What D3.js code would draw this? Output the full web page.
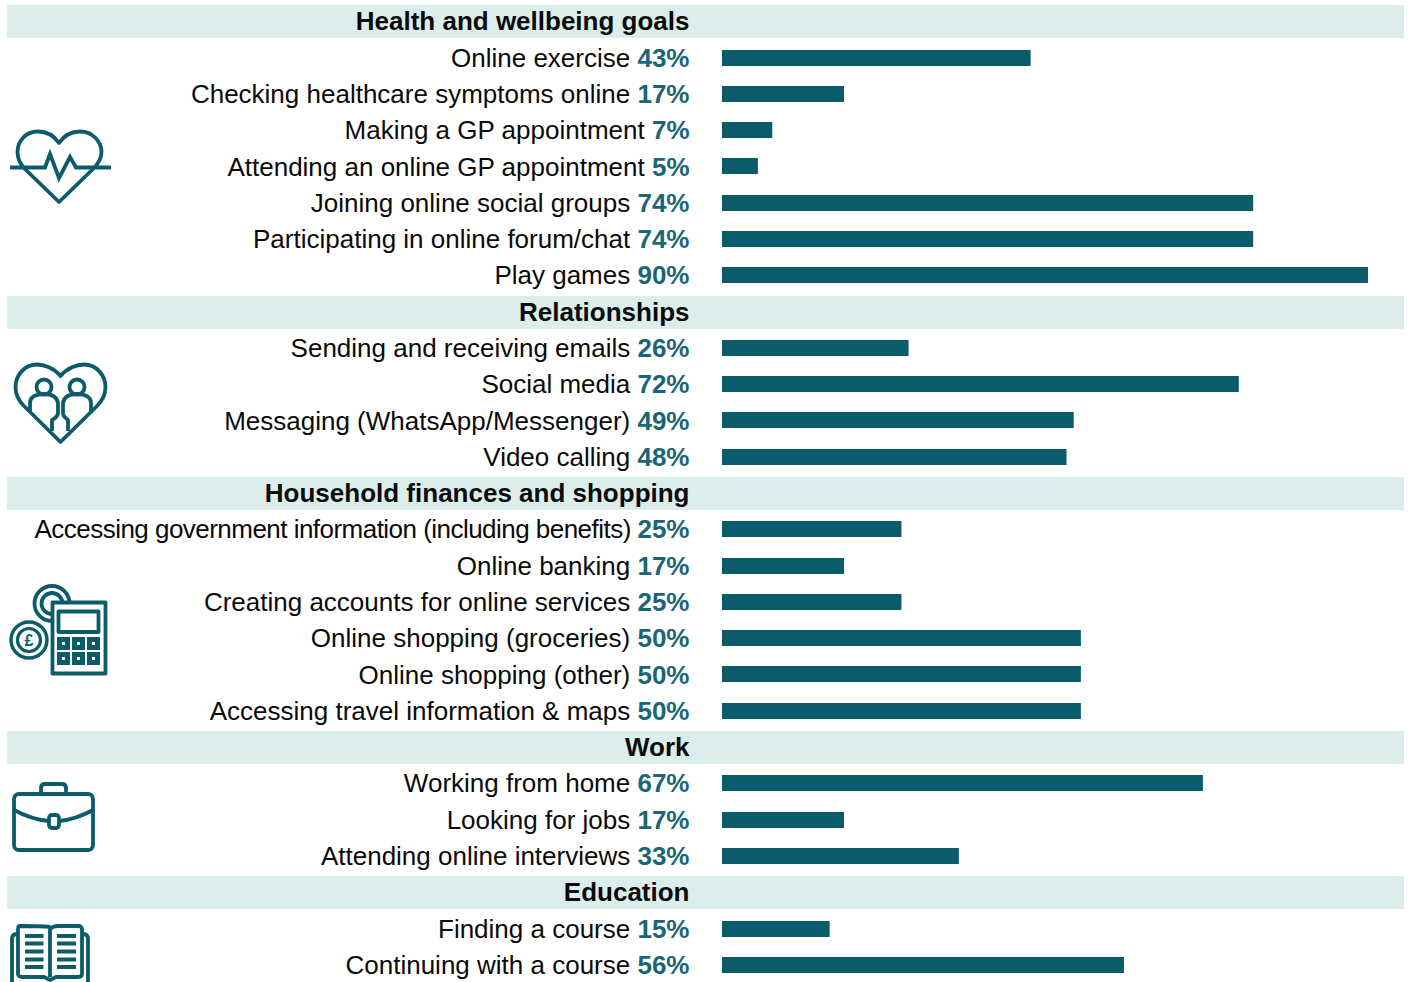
<!DOCTYPE html>
<html><head><meta charset="utf-8">
<script src="https://cdn.jsdelivr.net/npm/d3@7/dist/d3.min.js"></script>
<style>html,body{margin:0;padding:0;background:#fff}svg{display:block}text{font-family:"Liberation Sans",Arial,sans-serif}</style>
</head><body><svg id="c" width="1408" height="982"></svg>
<script>
const labels = ["Health and wellbeing goals","Online exercise","Checking healthcare symptoms online","Making a GP appointment","Attending an online GP appointment","Joining online social groups","Participating in online forum/chat","Play games","Relationships","Sending and receiving emails","Social media","Messaging (WhatsApp/Messenger)","Video calling","Household finances and shopping","Accessing government information (including benefits)","Online banking","Creating accounts for online services","Online shopping (groceries)","Online shopping (other)","Accessing travel information & maps","Work","Working from home","Looking for jobs","Attending online interviews","Education","Finding a course","Continuing with a course"];
const values = [null,43,17,7,5,74,74,90,null,26,72,49,48,null,25,17,25,50,50,50,null,67,17,33,null,15,56];
const INK="#0b5c6b", BAND="#dceeeb";
const svg=d3.select("#c");
const y=d3.scalePoint().domain(d3.range(labels.length)).range([21.3,964.8]);
const x=d3.scaleLinear().domain([0,90]).range([722,1368]);
const rows=labels.map((l,i)=>({l,v:values[i],i}));
svg.selectAll("rect.band").data(rows.filter(d=>d.v===null)).join("rect").attr("class","band")
  .attr("x",7).attr("width",1397).attr("y",d=>Math.ceil(y(d.i)-16.4)).attr("height",33).attr("fill",BAND);
const t=svg.selectAll("text.l").data(rows).join("text").attr("class","l")
  .attr("x",689.5).attr("y",d=>y(d.i)+9.1).attr("text-anchor","end").attr("font-size",26).attr("fill","#0a0a0a")
  .attr("font-weight",d=>d.v===null?700:400);
t.append("tspan").attr("letter-spacing",d=>d.l.length>50?-0.53:null).text(d=>d.v===null?d.l:d.l+" ");
t.filter(d=>d.v!==null).append("tspan").attr("font-weight",700).attr("fill","#1a6675").text(d=>d.v+"%");
svg.selectAll("rect.bar").data(rows.filter(d=>d.v!==null)).join("rect").attr("class","bar")
  .attr("x",x(0)).attr("y",d=>Math.round(y(d.i))-8).attr("height",16).attr("width",d=>x(d.v)-x(0)).attr("fill",INK);
// icons
const ic=svg.append("g").attr("fill","none").attr("stroke",INK).attr("stroke-width",3.8).attr("stroke-linejoin","round");
// heart pulse
ic.append("path").attr("d","M59 143C53 134 44 131.500 38 131.500C25 131.500 17.500 142 17.500 152C17.500 159 20 164 25 169L59 202L93 169C98 164 101.500 159 101.500 152C101.500 142 93 131.500 80 131.500C74 131.500 65 134 59 143Z");
ic.append("path").attr("stroke-linejoin","miter").attr("d","M10 167.500H45L50 154L59 178L70 157L76 167.500H111");
// relationship heart
ic.append("path").attr("d","M60.500 376C54 368 44 364.500 37 364.500C24 364.500 15.500 376 15.500 387C15.500 395 19 401 24 406L60.500 442L97 406C102 401 105.500 395 105.500 387C105.500 376 97 364.500 84 364.500C77 364.500 67 368 60.500 376Z");
ic.append("circle").attr("cx",44).attr("cy",387).attr("r",7.500);
ic.append("circle").attr("cx",77).attr("cy",387).attr("r",7.500);
ic.append("path").attr("d","M30 411V403C30 397 36 394 44 394C52 394 57 397 58 403V413C58 417 55 418 52 420V431");
ic.append("path").attr("d","M91 411V403C91 397 85 394 77 394C69 394 64 397 63 403V413C63 417 66 418 68 420V431");
// calculator and coins
ic.append("circle").attr("cx",52).attr("cy",603.500).attr("r",17.500);
ic.append("circle").attr("cx",52).attr("cy",603.500).attr("r",10.500);
ic.append("rect").attr("x",52.500).attr("y",602.500).attr("width",53).attr("height",71).attr("fill","#fff");
ic.append("rect").attr("x",58.500).attr("y",611.500).attr("width",40).attr("height",20.500);
[[59.500,639.500],[74.500,639.500],[89.500,639.500],[59.500,654.500],[74.500,654.500],[89.500,654.500]].forEach(p=>ic.append("rect").attr("x",p[0]).attr("y",p[1]).attr("width",8).attr("height",8).attr("stroke-width",5).attr("stroke-linejoin","miter"));
ic.append("circle").attr("cx",29).attr("cy",640).attr("r",18).attr("stroke-width",3.400).attr("fill","#fff");
ic.append("circle").attr("cx",29).attr("cy",640).attr("r",11.500).attr("stroke-width",3.200);
svg.append("text").attr("x",29).attr("y",646).attr("text-anchor","middle").attr("font-size",16).attr("font-weight",700).attr("fill",INK).text("£");
// briefcase
ic.append("rect").attr("x",14).attr("y",794).attr("width",79).attr("height",56).attr("rx",5);
ic.append("path").attr("d","M41 793V788C41 785 43 784 45 784H62C65 784 66 786 66 788V793");
ic.append("path").attr("d","M14 810C25 816 37 820 49 821M59 821C71 820 82 816 93 810");
ic.append("rect").attr("x",49).attr("y",815).attr("width",10).attr("height",13).attr("rx",3);
// book
ic.append("path").attr("d","M50 927C46 926 26 926 20 926C18 926 18 928 18 930V974C18 976 20 977 22 977H44L50 980L56 977H78C81 977 82 976 82 974V930C82 928 81 926 79 926H58C55 926 53 926 50 929V977");
ic.append("path").attr("d","M17 934C13 934 12 936 12 939V982M83 934C87 934 88 936 88 939V982");
[936,943.500,951.500,959.500,967].forEach(v=>{ic.append("path").attr("stroke-width",4).attr("d",`M25 ${v}H43.500M57 ${v}H76`);});
</script></body></html>
